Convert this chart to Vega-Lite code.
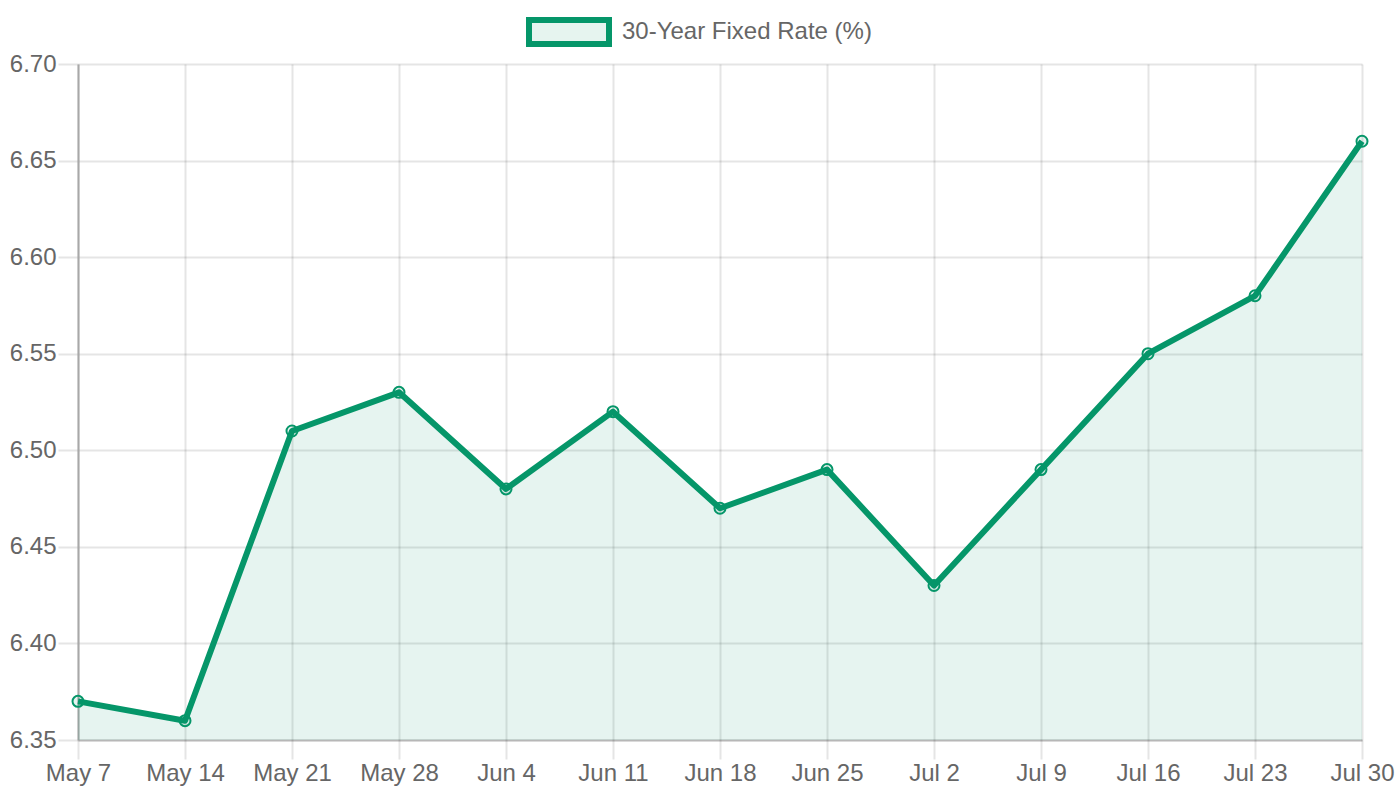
{
  "$schema": "https://vega.github.io/schema/vega-lite/v6.json",
  "width": 1284,
  "height": 676,
  "autosize": {"type": "none"},
  "padding": {"left": 78, "top": 64, "right": 38, "bottom": 60},
  "background": "white",
  "config": {
    "view": {"stroke": null},
    "font": "Liberation Sans",
    "axis": {
      "labelFont": "Liberation Sans",
      "labelFontSize": 24,
      "labelColor": "#666666",
      "gridColor": "rgba(0,0,0,0.1)",
      "gridWidth": 2,
      "tickColor": "rgba(0,0,0,0.1)",
      "tickWidth": 2,
      "title": null
    }
  },
  "data": {
    "values": [
      {"date": "May 7", "rate": 6.37, "series": "30-Year Fixed Rate (%)"},
      {"date": "May 14", "rate": 6.36, "series": "30-Year Fixed Rate (%)"},
      {"date": "May 21", "rate": 6.51, "series": "30-Year Fixed Rate (%)"},
      {"date": "May 28", "rate": 6.53, "series": "30-Year Fixed Rate (%)"},
      {"date": "Jun 4", "rate": 6.48, "series": "30-Year Fixed Rate (%)"},
      {"date": "Jun 11", "rate": 6.52, "series": "30-Year Fixed Rate (%)"},
      {"date": "Jun 18", "rate": 6.47, "series": "30-Year Fixed Rate (%)"},
      {"date": "Jun 25", "rate": 6.49, "series": "30-Year Fixed Rate (%)"},
      {"date": "Jul 2", "rate": 6.43, "series": "30-Year Fixed Rate (%)"},
      {"date": "Jul 9", "rate": 6.49, "series": "30-Year Fixed Rate (%)"},
      {"date": "Jul 16", "rate": 6.55, "series": "30-Year Fixed Rate (%)"},
      {"date": "Jul 23", "rate": 6.58, "series": "30-Year Fixed Rate (%)"},
      {"date": "Jul 30", "rate": 6.66, "series": "30-Year Fixed Rate (%)"}
    ]
  },
  "encoding": {
    "x": {
      "field": "date",
      "type": "ordinal",
      "sort": null,
      "scale": {"type": "point", "padding": 0},
      "axis": {
        "labelAngle": 0,
        "grid": true,
        "tickSize": 19,
        "labelPadding": 2,
        "domainColor": "rgba(0,0,0,0.2)",
        "domainWidth": 2
      }
    },
    "y": {
      "field": "rate",
      "type": "quantitative",
      "scale": {"domain": [6.35, 6.7], "zero": false, "nice": false},
      "axis": {
        "values": [6.35, 6.4, 6.45, 6.5, 6.55, 6.6, 6.65, 6.7],
        "format": ".2f",
        "grid": true,
        "tickSize": 20,
        "labelPadding": 2,
        "domainColor": "#a8a8a8",
        "domainWidth": 2
      }
    }
  },
  "layer": [
    {
      "mark": {"type": "area", "fill": "#059669", "fillOpacity": 0.1, "clip": true}
    },
    {
      "mark": {"type": "line", "strokeWidth": 6, "strokeJoin": "round"},
      "encoding": {
        "stroke": {
          "field": "series",
          "type": "nominal",
          "scale": {"range": ["#059669"]},
          "legend": {
            "title": null,
            "orient": "none",
            "legendX": 448,
            "legendY": -75,
            "padding": 0,
            "symbolType": "M-1,-0.3H1V0.3H-1Z",
            "symbolSize": 6400,
            "symbolStrokeWidth": 6,
            "symbolFillColor": "#e6f4ef",
            "labelFont": "Liberation Sans",
            "labelFontSize": 24,
            "labelColor": "#666666",
            "labelOffset": 10,
            "labelLimit": 500,
            "encode": {
              "symbols": {
                "update": {
                  "fill": {"value": "#e6f4ef"},
                  "strokeWidth": {"value": 6},
                  "opacity": {"value": 1},
                  "fillOpacity": {"value": 1}
                }
              }
            }
          }
        }
      }
    },
    {
      "mark": {
        "type": "point",
        "shape": "circle",
        "size": 121,
        "filled": true,
        "fill": "#059669",
        "fillOpacity": 0.1,
        "stroke": "#059669",
        "strokeWidth": 2,
        "opacity": 1
      }
    }
  ]
}
